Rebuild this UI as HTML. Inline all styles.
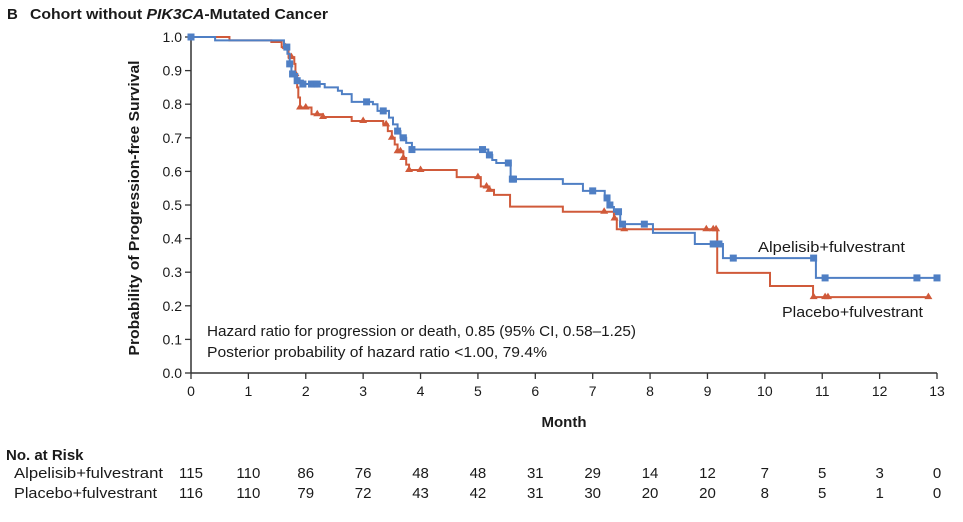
<!DOCTYPE html>
<html><head><meta charset="utf-8"><style>
body{margin:0;background:#fff;font-family:"Liberation Sans",sans-serif}
svg text{font-family:"Liberation Sans",sans-serif;fill:#1a1a1a}
</style></head><body>
<svg id="c" width="963" height="517" xmlns="http://www.w3.org/2000/svg">
<text x="7" y="19" font-size="15" font-weight="bold">B</text>
<text x="30" y="19" font-size="15" font-weight="bold" textLength="298" lengthAdjust="spacingAndGlyphs">Cohort without <tspan font-style="italic">PIK3CA</tspan>-Mutated Cancer</text>
<g id="axes"></g><g id="series"></g>
<text x="564" y="427" font-size="15" font-weight="bold" text-anchor="middle">Month</text>
<text transform="translate(139,208) rotate(-90)" font-size="15" font-weight="bold" text-anchor="middle" textLength="295" lengthAdjust="spacingAndGlyphs">Probability of Progression-free Survival</text>
<text x="207" y="336" font-size="15" textLength="429" lengthAdjust="spacingAndGlyphs">Hazard ratio for progression or death, 0.85 (95% CI, 0.58–1.25)</text>
<text x="207" y="357" font-size="15" textLength="340" lengthAdjust="spacingAndGlyphs">Posterior probability of hazard ratio &lt;1.00, 79.4%</text>
<text x="758" y="252" font-size="15" textLength="147" lengthAdjust="spacingAndGlyphs">Alpelisib+fulvestrant</text>
<text x="782" y="317" font-size="15" textLength="141" lengthAdjust="spacingAndGlyphs">Placebo+fulvestrant</text>
<text x="6" y="460" font-size="15" font-weight="bold">No. at Risk</text>
<text x="14" y="478" font-size="15" textLength="149" lengthAdjust="spacingAndGlyphs">Alpelisib+fulvestrant</text>
<text x="14" y="498" font-size="15" textLength="143" lengthAdjust="spacingAndGlyphs">Placebo+fulvestrant</text>
<g id="risk"></g>
</svg>
<script>
const xTicks=[0,1,2,3,4,5,6,7,8,9,10,11,12,13];
const yTicks=[0,0.1,0.2,0.3,0.4,0.5,0.6,0.7,0.8,0.9,1.0];
const blueT=[0,0.42,1.62,1.68,1.72,1.75,1.85,1.95,2.33,2.56,2.63,2.8,3.17,3.25,3.45,3.52,3.6,3.65,3.75,3.85,5.18,5.25,5.32,5.57,6.48,6.83,7.21,7.27,7.33,7.37,7.48,8.05,8.78,9.27,10.89,13.0];
const blueS=[1.0,0.99,0.97,0.95,0.92,0.89,0.87,0.86,0.85,0.84,0.83,0.807,0.80,0.78,0.76,0.74,0.72,0.70,0.685,0.665,0.649,0.634,0.625,0.577,0.563,0.542,0.521,0.50,0.494,0.48,0.443,0.417,0.384,0.342,0.283,0.283];
const blueCens=[0,1.67,1.72,1.77,1.85,1.95,2.1,2.15,2.2,3.06,3.35,3.6,3.7,3.85,5.08,5.2,5.53,5.6,5.62,7.0,7.25,7.3,7.45,7.52,7.9,9.1,9.2,9.45,10.85,11.05,12.65,13.0];
const redT=[0,0.67,1.4,1.58,1.7,1.8,1.82,1.85,1.87,1.9,2.1,2.3,2.8,3.35,3.43,3.5,3.55,3.6,3.7,3.75,3.8,4.63,5.05,5.2,5.28,5.56,6.48,7.37,7.42,9.17,10.09,10.84,12.85];
const redS=[1.0,0.99,0.985,0.97,0.94,0.92,0.89,0.85,0.82,0.79,0.77,0.762,0.75,0.74,0.72,0.70,0.68,0.66,0.64,0.62,0.604,0.583,0.555,0.545,0.53,0.495,0.48,0.46,0.428,0.298,0.259,0.226,0.226];
const redCens=[1.65,1.75,1.82,1.9,2.0,2.2,2.3,3.0,3.4,3.5,3.6,3.65,3.7,3.8,4.0,5.0,5.15,5.2,7.2,7.38,7.55,8.98,9.1,9.15,10.85,11.05,11.1,12.85];
const riskBlue=[115,110,86,76,48,48,31,29,14,12,7,5,3,0];
const riskRed=[116,110,79,72,43,42,31,30,20,20,8,5,1,0];
const X=m=>191+m*(937-191)/13, Y=s=>373-s*336;
const NS="http://www.w3.org/2000/svg";
function mk(p,t,a){const e=document.createElementNS(NS,t);for(const k in a)e.setAttribute(k,a[k]);p.appendChild(e);return e;}
const ax=document.getElementById('axes');
let l=mk(ax,'line',{x1:191,y1:37,x2:191,y2:373,stroke:'#333','stroke-width':1.5});


l=mk(ax,'line',{x1:191,y1:373,x2:937,y2:373,stroke:'#333','stroke-width':1.5});


xTicks.forEach(t=>{mk(ax,'line',{x1:X(t),y1:373,x2:X(t),y2:379,stroke:'#333','stroke-width':1.3});
const tx=mk(ax,'text',{x:X(t),y:396,'font-size':14,'text-anchor':'middle'});tx.textContent=t;

});
yTicks.forEach(t=>{mk(ax,'line',{x1:185,y1:Y(t),x2:191,y2:Y(t),stroke:'#333','stroke-width':1.3});
const tx=mk(ax,'text',{x:182,y:Y(t)+5,'font-size':14,'text-anchor':'end'});tx.textContent=t.toFixed(1);

});
function surv(T,S,m){let s=S[0];for(let i=0;i<T.length;i++)if(T[i]<=m)s=S[i];return s;}
function draw(T,S,C,col,name,tri){
const g=document.getElementById('series');
let d='M'+X(T[0])+','+Y(S[0]);
for(let i=1;i<T.length;i++){d+=' H'+X(T[i])+' V'+Y(S[i]);}
const p=mk(g,'path',{d:d,fill:'none',stroke:col,'stroke-width':2});


C.forEach(m=>{const x=X(m),y=Y(surv(T,S,m));let e;
if(tri)e=mk(g,'path',{d:`M${x},${y-4.5} L${x+4},${y+2} L${x-4},${y+2}Z`,fill:col});
else e=mk(g,'rect',{x:x-3.5,y:y-3.5,width:7,height:7,fill:col});

});}
draw(redT,redS,redCens,'#d05a3a','placebo',true);
draw(blueT,blueS,blueCens,'#4f7fc4','alpelisib',false);
const rk=document.getElementById('risk');
xTicks.forEach((t,i)=>{let a=mk(rk,'text',{x:X(t),y:478,'font-size':15,'text-anchor':'middle'});a.textContent=riskBlue[i];


let b=mk(rk,'text',{x:X(t),y:498,'font-size':15,'text-anchor':'middle'});b.textContent=riskRed[i];

});
</script>
</body></html>
